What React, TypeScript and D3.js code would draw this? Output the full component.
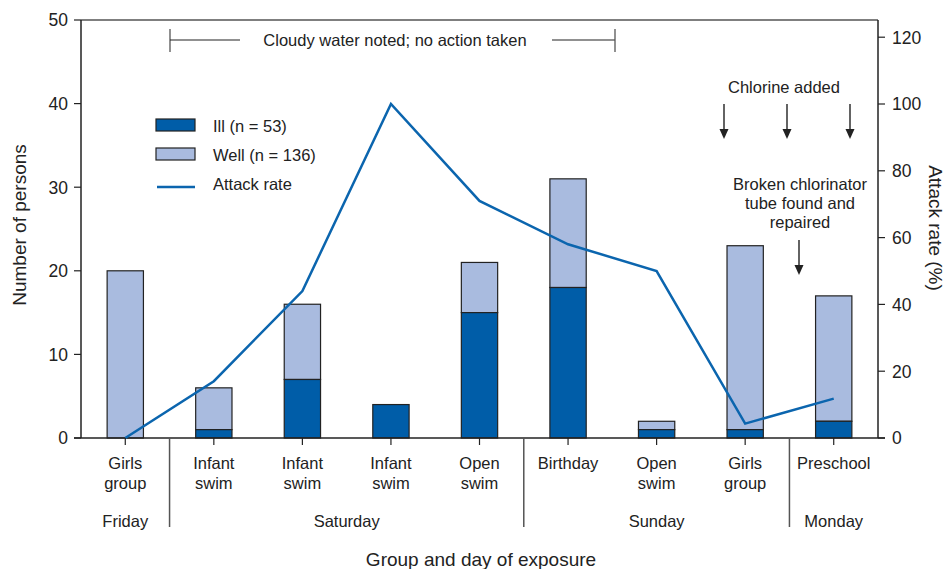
import React from "react";
import * as d3 from "d3";

const categories = ["Girls\ngroup", "Infant\nswim", "Infant\nswim", "Infant\nswim", "Open\nswim", "Birthday", "Open\nswim", "Girls\ngroup", "Preschool"];
const ill = [0, 1, 7, 4, 15, 18, 1, 1, 2];
const well = [20, 5, 9, 0, 6, 13, 1, 22, 15];
const attackRate = [0, 17, 44, 100, 71, 58, 50, 4.3, 11.8];
const days = [
  { name: "Friday", from: 0, to: 0 },
  { name: "Saturday", from: 1, to: 4 },
  { name: "Sunday", from: 5, to: 7 },
  { name: "Monday", from: 8, to: 8 },
];
const leftTicks = [0, 10, 20, 30, 40, 50];
const rightTicks = [0, 20, 40, 60, 80, 100, 120];

const W = 949, H = 569;
const L = 81, R = 878, T = 20, B = 438;
const ILL = "#005da8";
const WELL = "#a9bbdf";
const LINE = "#0b65ae";
const INK = "#222";
const FONT = "'Liberation Sans', Arial, sans-serif";

function Arrow({ x, y1, y2 }: { x: number; y1: number; y2: number }) {
  return (
    <g>
      <line x1={x} x2={x} y1={y1} y2={y2 - 8} stroke={INK} strokeWidth={1.4} />
      <path d={`M${x - 4.5},${y2 - 10} L${x + 4.5},${y2 - 10} L${x},${y2} Z`} fill={INK} />
    </g>
  );
}

export default function App() {
  const idx = categories.map((_, i) => i);
  const x = d3.scaleBand<number>().domain(idx).range([L, R]).paddingInner(0.59).paddingOuter(0.295);
  const step = x.step();
  const cx = (i: number) => (x(i) as number) + x.bandwidth() / 2;
  const y = d3.scaleLinear().domain([0, 50]).range([B, T]);
  const y2 = d3.scaleLinear().domain([0, 120]).range([B, B - 120 * 3.34]);
  const line = d3.line<number>().x((_, i) => cx(i)).y((d) => y2(d));
  const bandStart = (i: number) => L + step * i;

  return (
    <svg width={W} height={H} style={{ position: "absolute", left: 0, top: 0, fontFamily: FONT }}>
      {/* bars */}
      {idx.map((i) => (
        <g key={i}>
          {well[i] > 0 && (
            <rect x={x(i)} y={y(ill[i] + well[i])} width={x.bandwidth()} height={y(ill[i]) - y(ill[i] + well[i])} fill={WELL} stroke={INK} strokeWidth={1.2} />
          )}
          {ill[i] > 0 && (
            <rect x={x(i)} y={y(ill[i])} width={x.bandwidth()} height={y(0) - y(ill[i])} fill={ILL} stroke={INK} strokeWidth={1.2} />
          )}
        </g>
      ))}
      {/* frame */}
      <line x1={L} x2={R} y1={T} y2={T} stroke="#555" strokeWidth={1.5} />
      <line x1={L} x2={L} y1={T} y2={B} stroke={INK} strokeWidth={1.5} />
      <line x1={R} x2={R} y1={T} y2={B} stroke={INK} strokeWidth={1.5} />
      <line x1={L - 7} x2={R + 7} y1={B} y2={B} stroke={INK} strokeWidth={1.5} />
      {/* attack rate line */}
      <path d={line(attackRate) || ""} fill="none" stroke={LINE} strokeWidth={2.5} />
      {/* left ticks */}
      {leftTicks.map((t) => (
        <g key={"l" + t}>
          <line x1={L - 7} x2={L} y1={y(t)} y2={y(t)} stroke={INK} strokeWidth={1.2} />
          <text x={L - 13} y={y(t)} dy="0.36em" textAnchor="end" fontSize={17.5} fill={INK}>{t}</text>
        </g>
      ))}
      {rightTicks.map((t) => (
        <g key={"r" + t}>
          <line x1={R} x2={R + 7} y1={y2(t)} y2={y2(t)} stroke={INK} strokeWidth={1.2} />
          <text x={R + 14} y={y2(t)} dy="0.36em" textAnchor="start" fontSize={17.5} fill={INK}>{t}</text>
        </g>
      ))}
      {/* bottom ticks and labels */}
      {idx.map((i) => (
        <g key={"b" + i}>
          <line x1={cx(i)} x2={cx(i)} y1={B} y2={B + 7} stroke={INK} strokeWidth={1.2} />
          {categories[i].split("\n").map((s, k) => (
            <text key={k} x={cx(i)} y={469 + k * 20} textAnchor="middle" fontSize={16.5} fill={INK}>{s}</text>
          ))}
        </g>
      ))}
      {days.map((d, k) => (
        <g key={d.name}>
          <text x={(cx(d.from) + cx(d.to)) / 2} y={527} textAnchor="middle" fontSize={16.5} fill={INK}>{d.name}</text>
          {k > 0 && <line x1={bandStart(d.from)} x2={bandStart(d.from)} y1={B} y2={527} stroke="#555" strokeWidth={1.5} />}
        </g>
      ))}
      {/* axis titles */}
      <text transform={`translate(26,225) rotate(-90)`} textAnchor="middle" fontSize={19} fill={INK}>Number of persons</text>
      <text transform={`translate(929,228) rotate(90)`} textAnchor="middle" fontSize={19} fill={INK}>Attack rate (%)</text>
      <text x={481} y={566} textAnchor="middle" fontSize={19} fill={INK}>Group and day of exposure</text>
      {/* legend */}
      <rect x={156} y={119} width={39} height={12} fill={ILL} stroke={INK} strokeWidth={1.2} />
      <rect x={156} y={148} width={39} height={12} fill={WELL} stroke={INK} strokeWidth={1.2} />
      <line x1={157} x2={195} y1={187} y2={187} stroke={LINE} strokeWidth={2.5} />
      <text x={213} y={132} fontSize={16.5} fill={INK}>Ill (n = 53)</text>
      <text x={213} y={161} fontSize={16.5} fill={INK}>Well (n = 136)</text>
      <text x={213} y={190} fontSize={16.5} fill={INK}>Attack rate</text>
      {/* cloudy annotation */}
      <line x1={170} x2={170} y1={29} y2={52} stroke="#555" strokeWidth={1.3} />
      <line x1={170} x2={240} y1={40} y2={40} stroke={INK} strokeWidth={1.2} />
      <text x={395} y={46} textAnchor="middle" fontSize={16.5} fill={INK}>Cloudy water noted; no action taken</text>
      <line x1={552} x2={615} y1={40} y2={40} stroke={INK} strokeWidth={1.2} />
      <line x1={615} x2={615} y1={29} y2={52} stroke="#555" strokeWidth={1.3} />
      {/* chlorine */}
      <text x={784} y={93} textAnchor="middle" fontSize={16.5} fill={INK}>Chlorine added</text>
      {[724, 787, 850].map((ax) => (
        <Arrow key={ax} x={ax} y1={104} y2={139} />
      ))}
      {["Broken chlorinator", "tube found and", "repaired"].map((s, k) => (
        <text key={k} x={800} y={190 + k * 19} textAnchor="middle" fontSize={16.5} fill={INK}>{s}</text>
      ))}
      <Arrow x={799} y1={240} y2={275} />
    </svg>
  );
}
